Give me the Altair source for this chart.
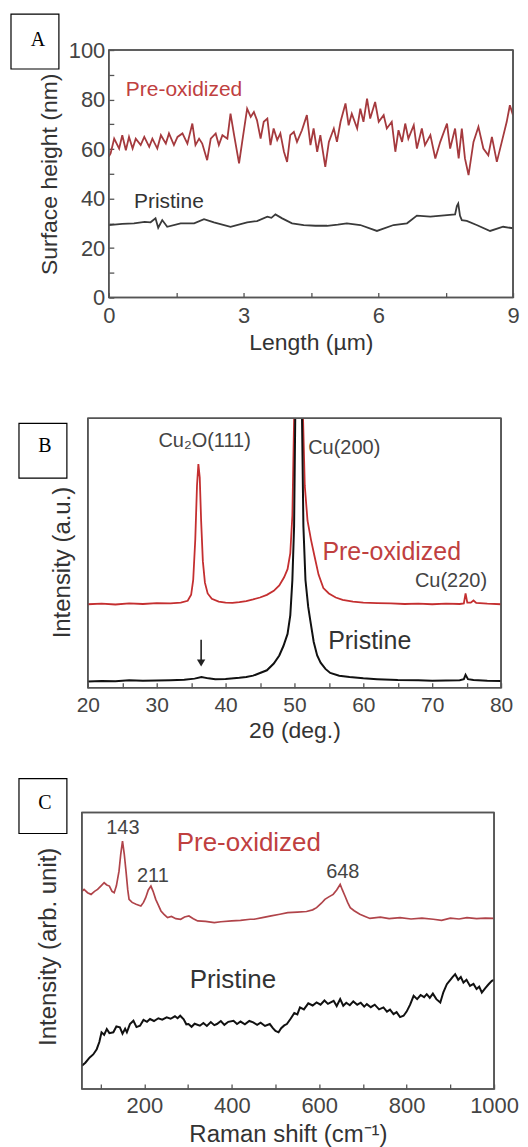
import altair as alt
import pandas as pd

# ---------------- Panel A : surface height profiles ----------------
a_pre_len = [0.00, 0.04, 0.12, 0.23, 0.30, 0.38, 0.45, 0.53, 0.60, 0.71,
             0.79, 0.90, 0.97, 1.08, 1.16, 1.27, 1.34, 1.45, 1.53, 1.64,
             1.75, 1.86, 1.93, 2.01, 2.08, 2.19, 2.27, 2.38, 2.45, 2.53,
             2.64, 2.71, 2.79, 2.90, 2.97, 3.08, 3.16, 3.23, 3.30, 3.38,
             3.45, 3.53, 3.60, 3.67, 3.75, 3.82, 3.90, 3.97, 4.04, 4.12,
             4.19, 4.30, 4.41, 4.49, 4.56, 4.64, 4.71, 4.82, 4.90, 5.01,
             5.08, 5.16, 5.27, 5.34, 5.41, 5.53, 5.60, 5.67, 5.75, 5.82,
             5.93, 6.01, 6.12, 6.19, 6.30, 6.38, 6.45, 6.53, 6.60, 6.67,
             6.79, 6.86, 6.97, 7.04, 7.16, 7.27, 7.38, 7.53, 7.60, 7.71,
             7.79, 7.86, 7.93, 8.01, 8.12, 8.23, 8.34, 8.45, 8.53, 8.64,
             8.75, 8.86, 8.93, 9.00]
a_pre_h = [57.0, 58.2, 64.2, 60.2, 65.6, 59.5, 64.9, 60.2, 64.2, 61.6,
           64.9, 60.9, 64.2, 60.2, 65.6, 62.2, 66.3, 61.6, 64.9, 66.3,
           62.2, 70.3, 61.6, 64.2, 62.2, 55.5, 64.2, 66.3, 61.6, 65.6,
           64.2, 74.3, 65.6, 54.2, 62.9, 76.3, 73.0, 75.0, 71.6, 64.2,
           71.0, 72.3, 61.6, 68.3, 63.6, 66.3, 58.9, 54.8, 65.6, 66.9,
           62.9, 67.6, 73.7, 61.6, 68.3, 58.9, 65.6, 52.8, 62.9, 68.3,
           62.9, 71.0, 78.4, 69.6, 74.3, 68.3, 76.3, 71.0, 80.4, 72.3,
           79.0, 71.0, 73.7, 68.3, 71.0, 58.9, 67.6, 62.9, 70.3, 64.2,
           69.6, 60.2, 68.3, 61.6, 65.6, 56.2, 62.9, 70.3, 60.2, 68.3,
           56.2, 68.3, 56.2, 49.5, 62.9, 69.0, 60.2, 57.5, 64.9, 54.8,
           62.9, 71.0, 77.7, 73.7]
a_pri_len = [0.00, 0.30, 0.56, 0.80, 0.93, 1.04, 1.10, 1.19, 1.30, 1.60,
             1.90, 2.12, 2.34, 2.71, 3.08, 3.30, 3.53, 3.62, 3.71, 3.86,
             4.08, 4.34, 4.60, 4.86, 5.10, 5.30, 5.60, 5.97, 6.34, 6.64,
             6.86, 7.16, 7.53, 7.71, 7.75, 7.78, 7.82, 7.86, 7.97, 8.19,
             8.49, 8.78, 9.00]
a_pri_h = [29.3, 29.8, 30.0, 30.6, 30.4, 32.0, 28.2, 31.3, 28.6, 30.0,
           30.0, 31.7, 30.4, 28.6, 30.4, 30.9, 32.7, 32.2, 33.6, 32.0,
           30.0, 29.3, 29.0, 29.0, 29.5, 30.0, 29.3, 26.9, 29.3, 30.0,
           33.1, 32.7, 33.3, 33.6, 37.0, 38.0, 33.0, 31.3, 31.0, 29.3,
           26.9, 28.6, 28.0]
a_ticks_x = [0, 1.5, 3, 4.5, 6, 7.5, 9]
a_ticks_y = [0, 10, 20, 30, 40, 50, 60, 70, 80, 90, 100]

# ---------------- Panel B : XRD ----------------
b_pre_2t = [20.0, 22.0, 24.0, 26.0, 28.0, 30.0, 32.0, 33.5, 34.5, 35.0,
            35.3, 35.6, 35.85, 36.05, 36.25, 36.45, 36.7, 37.0, 37.4, 38.0,
            39.0, 40.0, 41.0, 42.0, 43.0, 44.0, 45.0, 46.0, 47.0, 47.8,
            48.5, 49.0, 49.4, 49.7, 49.95, 50.2, 50.6, 51.0, 51.25, 51.5,
            51.9, 52.4, 52.9, 53.5, 54.2, 55.0, 56.0, 57.0, 58.5, 60.0,
            62.0, 64.0, 66.0, 68.0, 70.0, 72.0, 74.0, 74.6, 74.85, 75.1,
            75.6, 76.0, 76.4, 78.0, 80.0]
b_pre_i = [31.0, 31.2, 30.9, 31.3, 31.1, 31.4, 31.3, 31.6, 32.3, 34.5,
           40.0, 55.0, 75.0, 83.0, 78.0, 62.0, 47.0, 39.0, 35.0, 33.0,
           32.0, 31.6, 31.5, 31.8, 32.2, 32.8, 33.5, 34.5, 36.0, 38.0,
           41.0, 44.0, 50.0, 64.0, 100.0, 160.0, 250.0, 160.0, 100.0, 75.0,
           62.0, 55.0, 49.0, 42.0, 37.0, 35.0, 33.5, 32.6, 32.0, 31.6,
           31.4, 31.3, 31.1, 31.2, 31.0, 31.2, 31.1, 31.3, 35.0, 31.6,
           31.6, 32.4, 31.5, 31.2, 31.0]
b_pri_2t = [20.0, 22.0, 24.0, 26.0, 28.0, 30.0, 32.0, 34.0, 35.5, 36.5,
            37.5, 38.5, 40.0, 42.0, 43.0, 44.0, 45.0, 46.0, 47.0, 47.8,
            48.4, 49.0, 49.4, 49.7, 49.95, 50.2, 50.6, 51.0, 51.3, 51.6,
            52.0, 52.3, 52.8, 53.3, 53.8, 54.5, 55.2, 56.5, 58.0, 60.0,
            62.0, 65.0, 68.0, 70.0, 72.0, 74.0, 74.6, 74.85, 75.2, 76.0,
            78.0, 80.0]
b_pri_i = [2.3, 2.5, 2.4, 2.8, 2.6, 2.7, 2.8, 3.0, 3.4, 4.0,
           3.5, 3.2, 3.3, 3.7, 4.0, 4.5, 5.5, 6.5, 9.0, 12.0,
           15.5, 20.0, 27.0, 40.0, 60.0, 120.0, 260.0, 120.0, 60.0, 40.0,
           30.0, 25.0, 17.0, 12.0, 9.3, 7.0, 5.5, 4.5, 4.0, 3.5,
           3.2, 2.9, 2.8, 2.6, 2.7, 2.8, 3.2, 4.8, 3.2, 2.9,
           2.6, 2.5]
b_ticks_x = [20, 25, 30, 35, 40, 45, 50, 55, 60, 65, 70, 75, 80]

# ---------------- Panel C : Raman ----------------
c_pre_k = [57, 62, 70, 78, 86, 93, 101, 108, 114, 120,
           126, 131, 136, 142, 146, 150, 154, 158, 162, 165,
           172, 181, 192, 198, 203, 209, 215, 220, 226, 232,
           238, 245, 253, 262, 272, 283, 292, 302, 312, 322,
           340, 360, 375, 400, 420, 442, 451, 470, 490, 510,
           528, 550, 571, 585, 594, 605, 613, 622, 632, 640,
           648, 653, 659, 665, 671, 680, 693, 705, 716, 740,
           760, 785, 810, 835, 861, 880, 900, 920, 938, 960,
           980, 1000]
c_pre_i = [71.5, 72.2, 71.0, 70.4, 71.5, 72.2, 73.5, 74.6, 73.8, 73.4,
           71.5, 71.0, 73.5, 78.8, 85.0, 89.7, 85.0, 78.8, 72.0, 68.6,
           67.5, 66.8, 66.2, 67.5, 69.2, 72.0, 73.4, 71.5, 68.6, 66.5,
           64.4, 63.2, 62.0, 62.4, 61.6, 61.4, 62.2, 62.6, 61.6, 60.8,
           60.6, 60.2, 60.5, 60.8, 61.0, 61.4, 61.4, 62.0, 62.6, 63.2,
           63.8, 64.0, 64.2, 64.8, 65.6, 67.2, 68.6, 69.5, 70.4, 72.0,
           74.0, 72.0, 69.8, 67.5, 65.6, 64.5, 63.2, 62.4, 61.7, 62.2,
           61.6, 62.0, 61.5, 61.8, 61.4, 61.0, 61.8, 61.5, 62.0, 61.6,
           61.8, 61.7]
c_pri_k = [57, 65, 75, 83, 91, 97, 102, 108, 114, 120,
           129, 136, 144, 150, 156, 160, 167, 175, 182, 190,
           198, 206, 213, 222, 232, 241, 251, 260, 270, 276,
           282, 290, 296, 301, 308, 315, 327, 335, 343, 352,
           360, 366, 375, 383, 392, 404, 412, 420, 430, 440,
           449, 458, 466, 476, 487, 494, 500, 507, 513, 520,
           526, 535, 543, 550, 556, 565, 575, 585, 594, 603,
           612, 620, 633, 640, 648, 655, 662, 670, 678, 687,
           695, 703, 709, 718, 727, 737, 747, 755, 762, 770,
           777, 785, 793, 800, 808, 816, 824, 832, 840, 846,
           853, 860, 868, 877, 884, 892, 900, 905, 911, 918,
           924, 930, 937, 945, 953, 960, 966, 972, 980, 987,
           995, 1000]
c_pri_i = [8.4, 9.5, 11.4, 12.5, 14.4, 17.0, 20.5, 19.6, 21.7, 20.2,
           20.5, 22.6, 22.3, 20.0, 21.8, 20.5, 23.5, 24.7, 22.4, 22.9,
           25.0, 24.3, 25.3, 24.6, 25.6, 25.1, 25.9, 25.4, 26.3, 25.6,
           26.5, 25.2, 23.4, 23.5, 22.5, 23.6, 22.9, 23.9, 22.8, 24.2,
           23.1, 23.5, 24.6, 23.2, 24.3, 24.7, 23.5, 24.4, 23.4, 24.6,
           24.1, 23.2, 24.0, 22.8, 23.5, 22.0, 21.0, 20.5, 22.0, 23.0,
           23.5, 25.5, 27.5, 27.0, 29.5, 28.8, 31.0, 30.2, 31.3, 30.5,
           32.0, 30.8, 31.9, 30.0, 32.5, 30.1, 31.2, 30.3, 31.7, 30.5,
           31.2, 29.8, 30.7, 29.6, 30.5, 28.8, 29.5, 28.0, 28.7, 27.1,
           27.8, 26.0, 26.5, 28.0, 30.5, 33.7, 32.5, 34.0, 33.2, 34.3,
           33.0, 34.5, 32.5, 31.3, 35.0, 37.9, 39.5, 40.5, 41.5, 39.5,
           40.5, 38.5, 39.5, 37.3, 38.0, 36.2, 37.0, 34.9, 36.5, 37.8,
           39.1, 39.5]
c_ticks_x = [100, 200, 300, 400, 500, 600, 700, 800, 900, 1000]

# ---------------- annotations ----------------
a_names = ["Pre-oxidized", "Pristine"]
a_name_x = [0.38, 0.56]
a_name_y = [84.0, 38.5]

b_peak_labels = ["Cu(200)", "Cu(220)"]
b_peak_x = [52.0, 67.5]
b_peak_y = [89.1, 39.8]
b_cu2o_label = ["Cu\u2082O(111)"]
b_cu2o_x = [36.96]
b_cu2o_y = [91.5]
b_names = ["Pre-oxidized", "Pristine"]
b_name_x = [54.06, 54.9]
b_name_y = [50.4, 17.4]
b_arrow_x = [36.45]
b_arrow_top = [17.8]
b_arrow_tip = [9.2]

c_peak_labels = ["143", "211", "648"]
c_peak_x = [150.8, 219.5, 654.0]
c_peak_y = [94.4, 77.1, 78.5]
c_names = ["Pre-oxidized", "Pristine"]
c_name_x = [439.0, 402.5]
c_name_y = [88.8, 39.4]

FONT = "Liberation Sans"
FRAME = "#555555"
TXT = "#333333"
LBL = "#444444"
RED_TXT = "#c0403f"


def one_row():
    return pd.DataFrame({"k": [0]})


class Panel:
    def __init__(self, xs, ys, ax_x, ax_y, xd, yd):
        self.xs, self.ys, self.ax_x, self.ax_y = xs, ys, ax_x, ax_y
        self.xd, self.yd = xd, yd

    def X(self, f):
        return alt.X(f, scale=self.xs, axis=self.ax_x)

    def Y(self, f):
        return alt.Y(f, scale=self.ys, axis=self.ax_y)

    def line(self, xv, yv, color, width):
        df = pd.DataFrame({"x": xv, "y": yv})
        return alt.Chart(df).mark_line(color=color, strokeWidth=width, clip=True).encode(
            x=self.X("x:Q"), y=self.Y("y:Q"))

    def text(self, labels, xv, yv, size, color, align="left"):
        df = pd.DataFrame({"x": xv, "y": yv, "t": labels})
        return alt.Chart(df).mark_text(
            font=FONT, fontSize=size, color=color, align=align, baseline="middle").encode(
            x=self.X("x:Q"), y=self.Y("y:Q"), text="t:N")

    def frame(self):
        # closed path around the scale domains: the panel's plot frame
        x0, x1 = self.xd
        y0, y1 = self.yd
        df = pd.DataFrame({"x": [x0, x1, x1, x0, x0],
                           "y": [y0, y0, y1, y1, y0],
                           "o": [0, 1, 2, 3, 4]})
        return alt.Chart(df).mark_line(color=FRAME, strokeWidth=1.6, strokeJoin="miter",
                                       strokeCap="square").encode(
            x=self.X("x:Q"), y=self.Y("y:Q"), order=alt.Order("o:Q"))


def frame_parts(x0, x1, h):
    def rule(**enc):
        return alt.Chart(one_row()).mark_rule(color=FRAME, strokeWidth=1.6).encode(**enc)
    return [
        rule(x=alt.value(x0), x2=alt.value(x1), y=alt.value(0)),
        rule(x=alt.value(x0), x2=alt.value(x1), y=alt.value(h)),
        rule(x=alt.value(x0), y=alt.value(0), y2=alt.value(h)),
        rule(x=alt.value(x1), y=alt.value(0), y2=alt.value(h)),
    ]


def letter_box(letter, bx0, bx1, by0, by1, tx, ty):
    box = alt.Chart(one_row()).mark_rect(fill="white", stroke="black", strokeWidth=1.2).encode(
        x=alt.value(bx0), x2=alt.value(bx1), y=alt.value(by0), y2=alt.value(by1))
    txt = alt.Chart(one_row()).mark_text(
        text=letter, font="Liberation Serif", fontSize=20, color="black",
        align="center", baseline="middle").encode(x=alt.value(tx), y=alt.value(ty))
    return [box, txt]


def anchor(top, bottom):
    return alt.Chart(one_row()).mark_rule(strokeOpacity=0, strokeWidth=0.5).encode(
        x=alt.value(-72), y=alt.value(top), y2=alt.value(bottom))


# ================= Panel A =================
A_W, A_H = 432, 248
pA = Panel(
    alt.Scale(domain=[0, 9], range=[27, 432], nice=False, zero=False),
    alt.Scale(domain=[0, 100], nice=False, zero=False),
    alt.Axis(values=a_ticks_x, labelExpr="datum.value % 3 == 0 ? datum.label : ''",
             offset=-5, tickSize=5, tickWidth=1.3, domain=False, labelPadding=8,
             labelFontSize=22, title="Length (\u00b5m)", titleFontSize=23,
             titleY=50, titleBaseline="middle"),
    alt.Axis(values=a_ticks_y, labelExpr="datum.value % 20 == 0 ? datum.label : ''",
             offset=-32, tickSize=5, tickWidth=1.3, domain=False, labelPadding=4,
             labelFontSize=22, title="Surface height (nm)", titleFontSize=23,
             titleX=-64, titleY=124, titleBaseline="middle"),
    [0, 9], [0, 100],
)
panelA = alt.layer(
    pA.frame(),
    pA.line(a_pre_len, a_pre_h, "#a53a3e", 1.8),
    pA.line(a_pri_len, a_pri_h, "#3a3a3a", 1.8),
    pA.text(a_names[:1], a_name_x[:1], a_name_y[:1], 21, RED_TXT),
    pA.text(a_names[1:], a_name_x[1:], a_name_y[1:], 21, TXT),
    *frame_parts(27, 432, A_H),
    *letter_box("A", -71, -23, -36, 19, -44, -10),
    anchor(-38, 352),
).properties(width=A_W, height=A_H)

# ================= Panel B =================
B_W, B_H = 420, 270
pB = Panel(
    alt.Scale(domain=[20, 80], range=[6, 420], nice=False, zero=False),
    alt.Scale(domain=[0, 100], nice=False, zero=False),
    alt.Axis(values=b_ticks_x, labelExpr="datum.value % 10 == 0 ? datum.label : ''",
             offset=-5, tickSize=5, tickWidth=1.3, domain=False, labelPadding=7,
             labelFontSize=21, title="2\u03b8 (deg.)", titleFontSize=23,
             titleY=48, titleBaseline="middle"),
    alt.Axis(labels=False, ticks=False, domain=False, title="Intensity (a.u.)",
             titleFontSize=24, titleX=-19, titleY=144, titleBaseline="middle"),
    [20, 80], [0, 100],
)
dfB_arrow = pd.DataFrame({"x": b_arrow_x, "y0": b_arrow_top, "y1": b_arrow_tip})
arrow_shaft = alt.Chart(dfB_arrow).mark_rule(color="#222222", strokeWidth=1.6).encode(
    x=pB.X("x:Q"), y=pB.Y("y0:Q"), y2="y1")
arrow_head = alt.Chart(dfB_arrow).mark_point(shape="triangle-down", filled=True, size=70,
                                             color="#222222", opacity=1).encode(
    x=pB.X("x:Q"), y=pB.Y("y1:Q"))

panelB = alt.layer(
    pB.frame(),
    pB.line(b_pre_2t, b_pre_i, "#c42f30", 1.8),
    pB.line(b_pri_2t, b_pri_i, "#111111", 2.0),
    arrow_shaft, arrow_head,
    pB.text(b_cu2o_label, b_cu2o_x, b_cu2o_y, 20, LBL, align="center"),
    pB.text(b_peak_labels, b_peak_x, b_peak_y, 20, LBL),
    pB.text(b_names[:1], b_name_x[:1], b_name_y[:1], 25, RED_TXT),
    pB.text(b_names[1:], b_name_x[1:], b_name_y[1:], 25, TXT),
    *frame_parts(6, 420, B_H),
    *letter_box("B", -63, -15, 5, 60, -37, 28),
    anchor(-15, 337),
).properties(width=B_W, height=B_H)

# ================= Panel C =================
C_W, C_H = 413, 277
pC = Panel(
    alt.Scale(domain=[57, 1000], range=[0, 413], nice=False, zero=False),
    alt.Scale(domain=[0, 100], nice=False, zero=False),
    alt.Axis(values=c_ticks_x,
             labelExpr="datum.value % 200 == 0 ? format(datum.value, 'd') : ''",
             offset=-5, tickSize=5, tickWidth=1.3, domain=False, labelPadding=7,
             labelFontSize=22, title="Raman shift (cm\u207b\u00b9)", titleFontSize=24,
             titleY=51, titleBaseline="middle"),
    alt.Axis(labels=False, ticks=False, domain=False, title="Intensity (arb. unit)",
             titleFontSize=24, titleX=-33, titleY=134, titleBaseline="middle"),
    [57, 1000], [0, 100],
)
panelC = alt.layer(
    pC.frame(),
    pC.line(c_pre_k, c_pre_i, "#b0444a", 1.7),
    pC.line(c_pri_k, c_pri_i, "#111111", 2.0),
    pC.text(c_peak_labels, c_peak_x, c_peak_y, 20, LBL, align="center"),
    pC.text(c_names[:1], c_name_x[:1], c_name_y[:1], 26, RED_TXT, align="center"),
    pC.text(c_names[1:], c_name_x[1:], c_name_y[1:], 26, TXT, align="center"),
    *frame_parts(0, 413, C_H),
    *letter_box("C", -63, -15, -34, 21, -37, -10),
    anchor(-56, 332),
).properties(width=C_W, height=C_H)

chart = alt.vconcat(panelA, panelB, panelC, spacing=0).properties(
    padding={"left": 1, "top": 2, "right": 0, "bottom": 0}
).configure_view(stroke="transparent").configure_axis(
    labelFont=FONT, titleFont=FONT, labelColor=LBL, titleColor=TXT,
    tickColor=FRAME, titleFontWeight="normal", grid=False,
    labelFlush=False, labelOverlap=False)

chart.save("out.html", embed_options={"renderer": "svg", "actions": False})
